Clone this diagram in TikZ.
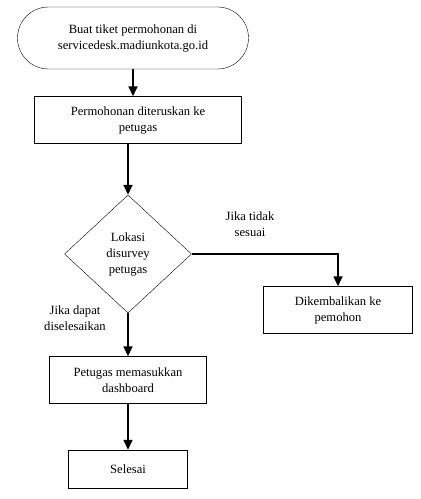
\documentclass[tikz,border=0pt]{standalone}
\usepackage{fontspec}
\setmainfont{Liberation Serif}
\usetikzlibrary{shapes.geometric,arrows.meta}
\tikzset{x=1pt, y=-1pt,
  every node/.style={font=\fontsize{12.6}{16}\selectfont, align=center},
  terminal/.style={draw, rounded corners=31pt, minimum width=231pt, minimum height=62pt},
  process/.style={draw, minimum height=47pt},
  decision/.style={draw, diamond, inner sep=0pt, minimum width=127pt, minimum height=118pt},
  flow/.style={line width=1.5pt, -{Triangle[width=9pt,length=10pt]}},
  cond/.style={draw=none}
}
\begin{document}
\begin{tikzpicture}
\useasboundingbox (0,0) rectangle (421,499);
\node[terminal] (mulai) at (133,38) {Buat tiket permohonan di\\servicedesk.madiunkota.go.id};
\node[process, minimum width=207pt] (terus) at (138,120) {Permohonan diteruskan ke\\petugas};
\node[decision] (survey) at (128,254) {Lokasi\\disurvey\\petugas};
\node[process, minimum width=149pt] (kembali) at (338,310) {Dikembalikan ke\\pemohon};
\node[process, minimum width=157pt] (masuk) at (128,380) {Petugas memasukkan\\dashboard};
\node[process, minimum width=119pt, minimum height=38pt] (selesai) at (128,469) {Selesai};
%% label cabang
\node[cond] (tidak) at (250,224) {Jika tidak\\sesuai};
\node[cond] (dapat) at (75,318) {Jika dapat\\diselesaikan};
\draw[flow] (mulai.south) -- (terus.north -| mulai.south);
\draw[flow] (terus.south -| survey.north) -- (survey.north);
\draw[flow] (survey.east) -| (kembali.north);
\draw[flow] (survey.south) -- (masuk.north);
\draw[flow] (masuk.south) -- (selesai.north);
\end{tikzpicture}
\end{document}
